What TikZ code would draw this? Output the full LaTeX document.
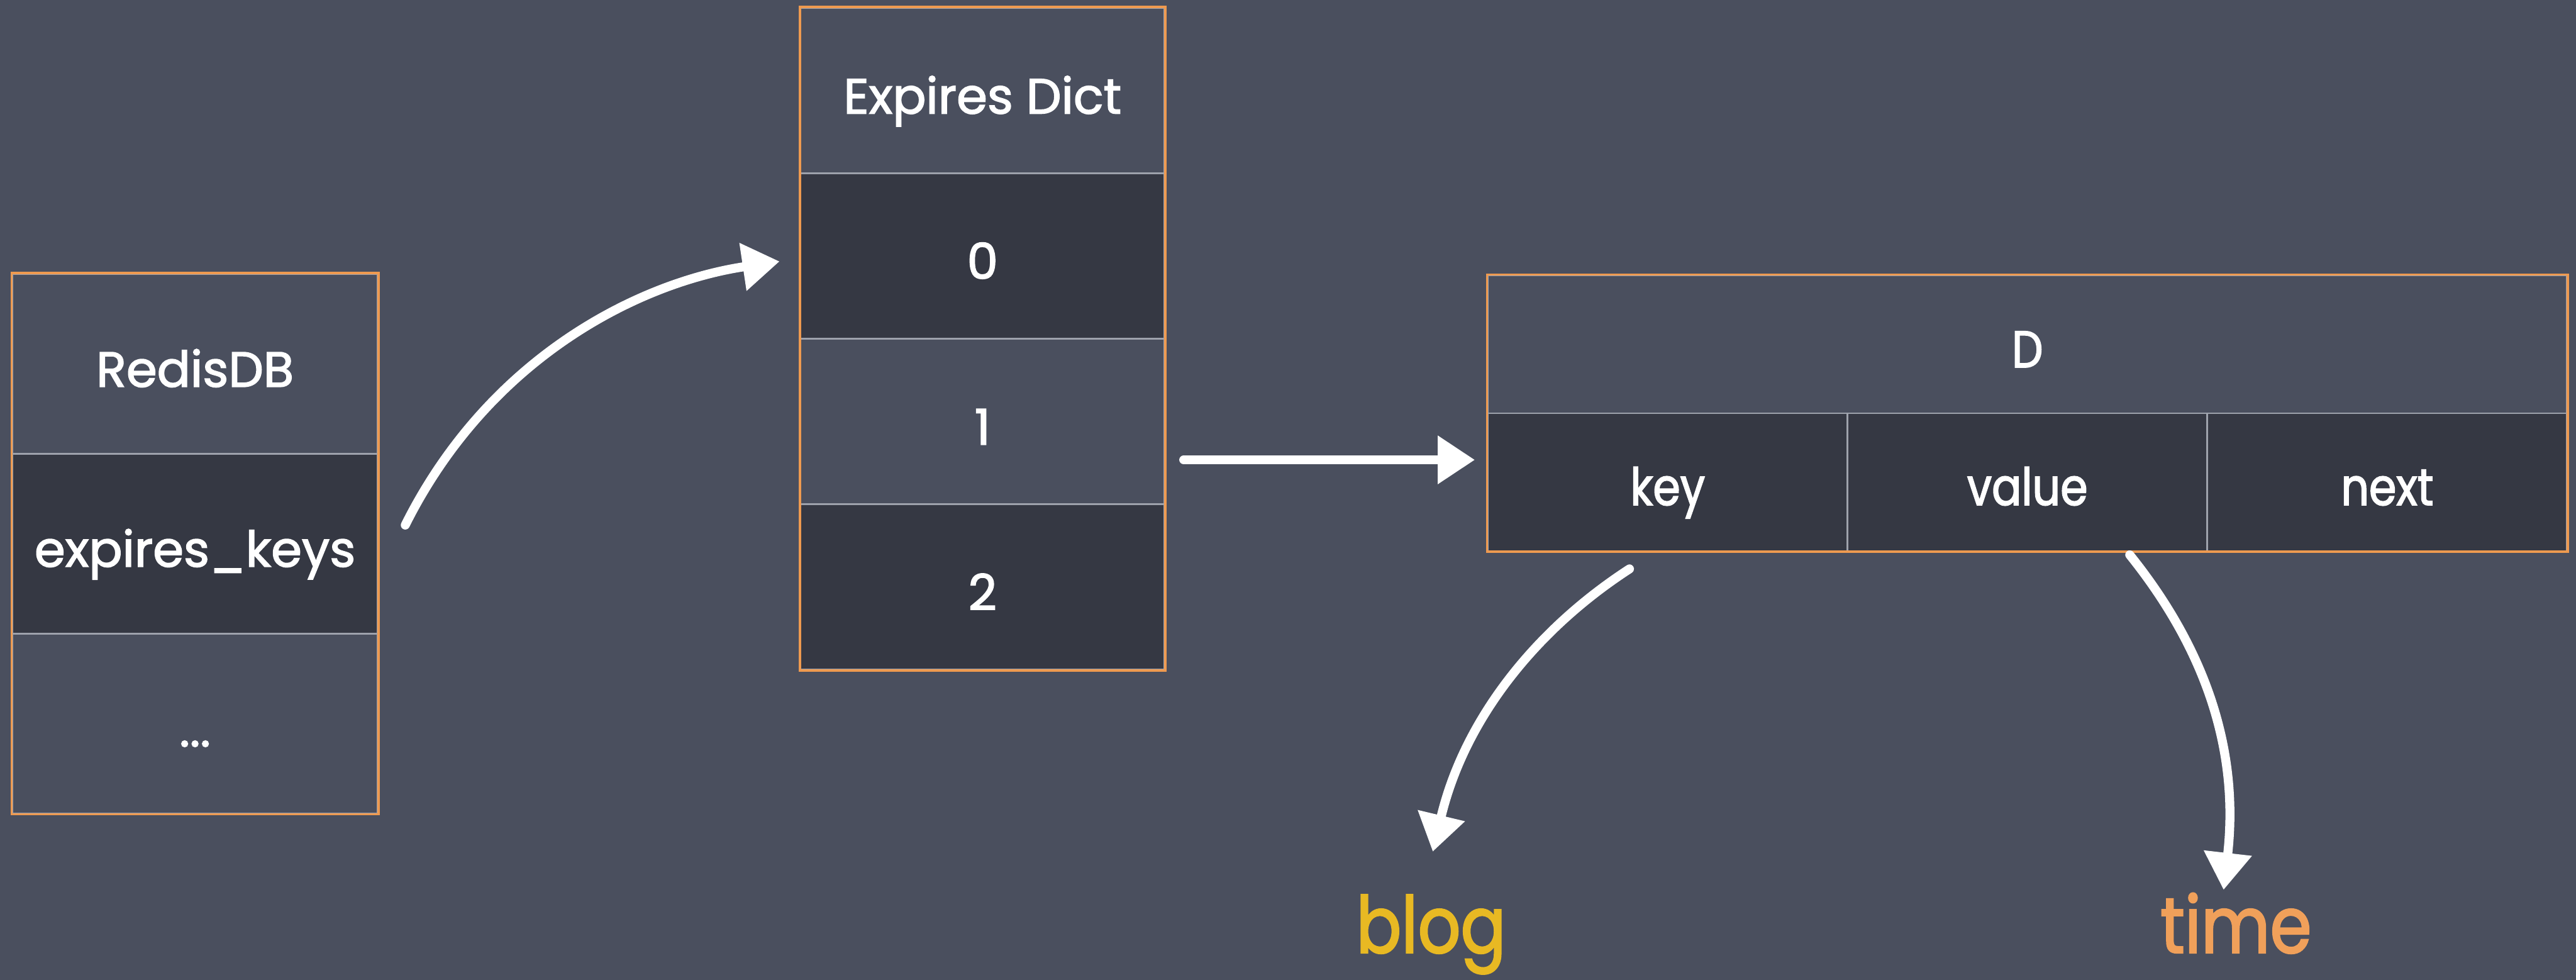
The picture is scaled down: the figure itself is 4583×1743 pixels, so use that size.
\documentclass[tikz,border=0pt]{standalone}
\usepackage{fontspec}
\usetikzlibrary{arrows.meta}
\newfontfamily\chalkfont[FakeBold=2]{Poppins}
\newfontfamily\chalknarrow[FakeStretch=0.85,FakeBold=2]{Poppins}
\definecolor{board}{HTML}{4A4F5E}
\definecolor{boarddark}{HTML}{353843}
\definecolor{framecol}{HTML}{EE9A50}
\definecolor{rulecol}{HTML}{9EA2AC}
\definecolor{blogcol}{HTML}{E8B923}
\definecolor{timecol}{HTML}{F0A05A}
\tikzset{
  cell/.style={draw=rulecol, line width=3pt, inner sep=0pt,
    text height=84pt, text depth=2pt, text=white,
    font=\chalkfont\fontsize{88}{100}\selectfont},
  narrowcell/.style={cell, font=\chalknarrow\fontsize{92}{104}\selectfont},
  light/.style={fill=board},
  dark/.style={fill=boarddark},
  frame/.style={draw=framecol, line width=4pt},
  chalk/.style={draw=white, line width=16pt, line cap=round,
    -{Triangle[length=66pt, width=82pt]}},
  result/.style={inner sep=0pt, anchor=base,
    font=\chalknarrow\fontsize{140}{150}\selectfont}
}
\begin{document}
\begin{tikzpicture}[x=1pt, y=-1pt]
  \useasboundingbox (0,0) rectangle (4583,1743);
  \fill[board] (0,0) rectangle (4583,1743);

  % RedisDB structure
  \begin{scope}[every node/.append style={cell, minimum width=650pt, minimum height=320pt}]
    \node[light] (db0) at (347,647)  {RedisDB};
    \node[dark]  (db1) at (347,967)  {expires\_keys};
    \node[light] (db2) at (347,1287) {...};
  \end{scope}
  \draw[frame] (db0.north west) rectangle (db2.south east);

  % expires dictionary buckets
  \begin{scope}[every node/.append style={cell, minimum width=647pt, minimum height=294pt}]
    \node[light] (ex0) at (1748,161)  {Expires Dict};
    \node[dark]  (ex1) at (1748,455)  {0};
    \node[light] (ex2) at (1748,750)  {1};
    \node[dark]  (ex3) at (1748,1044) {2};
  \end{scope}
  \draw[frame] (ex0.north west) rectangle (ex3.south east);

  % dict entry
  \node[narrowcell, light, minimum width=1920pt, minimum height=245pt] (dh) at (3607,612.5) {D};
  \begin{scope}[every node/.append style={narrowcell, dark, minimum width=640pt, minimum height=245pt}]
    \node (dk) at (2967,857.5) {key};
    \node (dv) at (3607,857.5) {value};
    \node (dn) at (4247,857.5) {next};
  \end{scope}
  \draw[frame] (dh.north west) rectangle (dn.south east);

  % what the entry holds
  \node[result, text=blogcol] (blog) at (2546,1695) {blog};
  \node[result, text=timecol] (time) at (3978,1695) {time};

  % arrow end points
  \coordinate (a1s) at (721,934);
  \coordinate (a1e) at (1387,465);
  \coordinate (a2s) at (2106,818);
  \coordinate (a2e) at (2624,818);
  \coordinate (a3s) at (2899,1012);
  \coordinate (a3e) at (2549,1515);
  \coordinate (a4s) at (3789,987);
  \coordinate (a4e) at (3956,1583);

  % chalk arrows
  \draw[chalk] (a1s) .. controls (871,634) and (1139,502) .. (a1e);
  \draw[chalk] (a2s) -- (a2e);
  \draw[chalk] (a3s) .. controls (2740,1115) and (2607,1272) .. (a3e);
  \draw[chalk] (a4s) .. controls (3920,1150) and (3985,1330) .. (a4e);
\end{tikzpicture}
\end{document}
